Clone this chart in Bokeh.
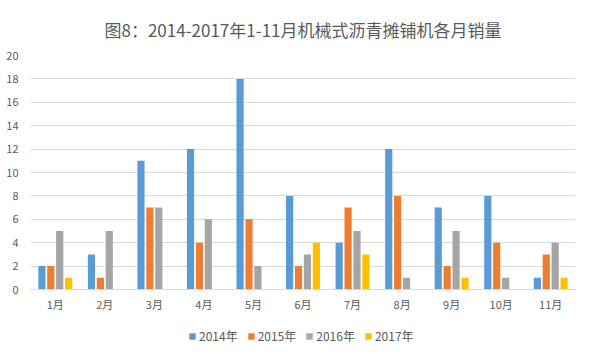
from bokeh.plotting import figure
from bokeh.models import ColumnDataSource, FactorRange, Legend, LegendItem, Range1d
from bokeh.layouts import column
from bokeh.transform import dodge
from bokeh.embed import file_html
from bokeh.resources import INLINE

months = ["1月", "2月", "3月", "4月", "5月", "6月", "7月", "8月", "9月", "10月", "11月"]
sales_2014 = [2, 3, 11, 12, 18, 8, 4, 12, 7, 8, 1]
sales_2015 = [2, 1, 7, 4, 6, 2, 7, 8, 2, 4, 3]
sales_2016 = [5, 5, 7, 6, 2, 3, 5, 1, 5, 1, 4]
sales_2017 = [1, 0, 0, 0, 0, 4, 3, 0, 1, 0, 1]
series_names = ["2014年", "2015年", "2016年", "2017年"]
colors = ["#5B9BD5", "#ED7D31", "#A5A5A5", "#FFC000"]
title_text = "图8：2014-2017年1-11月机械式沥青摊铺机各月销量"

FONT = "Noto Sans CJK SC"
TXT = "#595959"

src = ColumnDataSource(dict(month=months, s2014=sales_2014, s2015=sales_2015,
                            s2016=sales_2016, s2017=sales_2017))

cols = ["s2014", "s2015", "s2016", "s2017"]
offsets = [-0.27, -0.09, 0.09, 0.27]

p = figure(width=592, height=314, x_range=FactorRange(*months), y_range=(0, 20),
           output_backend="svg", toolbar_location=None,
           min_border_left=30, min_border_right=17, min_border_top=51, min_border_bottom=24)

for c, off, col in zip(cols, offsets, colors):
    p.vbar(x=dodge("month", off, range=p.x_range), top=c, width=0.145, source=src,
           fill_color=col, line_color=None)

p.title.text = title_text
p.title.align = "center"
p.title.text_font = FONT
p.title.text_font_size = "17px"
p.title.text_font_style = "normal"
p.title.text_color = TXT
p.title.standoff = 28

p.outline_line_color = None
p.background_fill_color = "white"
p.border_fill_color = "white"

p.xgrid.grid_line_color = None
p.ygrid.grid_line_color = "#d9d9d9"
p.ygrid.grid_line_width = 1

p.yaxis.ticker = list(range(0, 21, 2))
p.yaxis.axis_line_color = None
p.yaxis.major_tick_line_color = None
p.yaxis.minor_tick_line_color = None
p.yaxis.major_label_text_color = TXT
p.yaxis.major_label_text_font = FONT
p.yaxis.major_label_text_font_size = "11px"
p.yaxis.major_label_standoff = 6

p.xaxis.axis_line_color = "#d9d9d9"
p.xaxis.major_tick_line_color = None
p.xaxis.minor_tick_line_color = None
p.xaxis.major_label_text_color = TXT
p.xaxis.major_label_text_font = FONT
p.xaxis.major_label_text_font_size = "11px"
p.xaxis.major_label_standoff = 0

# Legend strip: same series, drawn against a value range that keeps the bars out of view
lg = figure(width=592, height=40, x_range=p.x_range, y_range=Range1d(100, 101),
            output_backend="svg", toolbar_location=None,
            min_border_left=30, min_border_right=17, min_border_top=0, min_border_bottom=0)
lg.axis.visible = False
lg.grid.visible = False
lg.outline_line_color = None
lg_renderers = []
for c, off, col in zip(cols, offsets, colors):
    r = lg.vbar(x=dodge("month", off, range=lg.x_range), top=c, width=0.145, source=src,
                fill_color=col, line_color=None)
    lg_renderers.append(r)

legend = Legend(items=[LegendItem(label=n, renderers=[r]) for n, r in zip(series_names, lg_renderers)],
                orientation="horizontal", location=(158, 10),
                label_text_font=FONT, label_text_font_size="12px", label_text_color=TXT,
                glyph_width=8, glyph_height=8, label_standoff=3, spacing=9,
                border_line_color=None, background_fill_alpha=0, margin=0, padding=2)
lg.add_layout(legend, "center")

layout = column(p, lg, spacing=0)
open("out.html", "w").write(file_html(layout, INLINE))
